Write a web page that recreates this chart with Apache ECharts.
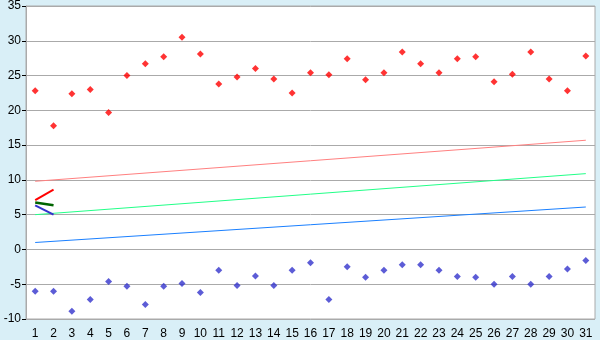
<!DOCTYPE html>
<html><head><meta charset="utf-8">
<script src="https://cdn.jsdelivr.net/npm/echarts@6/dist/echarts.min.js"></script>
<style>html,body{margin:0;padding:0;background:#d9eff7;}#c{width:600px;height:340px;}</style>
</head><body><div id="c"></div>
<script>
var days = ['1','2','3','4','5','6','7','8','9','10','11','12','13','14','15','16','17','18','19','20','21','22','23','24','25','26','27','28','29','30','31'];
var highs = [22.8,17.8,22.4,23.0,19.7,25.0,26.7,27.7,30.5,28.1,23.8,24.8,26.0,24.5,22.5,25.4,25.1,27.4,24.4,25.4,28.4,26.7,25.4,27.4,27.7,24.1,25.2,28.4,24.5,22.8,27.8];
var lows = [-6.0,-6.0,-8.9,-7.2,-4.6,-5.3,-7.9,-5.3,-4.9,-6.2,-3.0,-5.2,-3.8,-5.2,-3.0,-1.9,-7.2,-2.5,-4.0,-3.0,-2.2,-2.2,-3.0,-3.9,-4.0,-5.0,-3.9,-5.0,-3.9,-2.8,-1.6];
// trend lines: [first day value, last day value]
var normalHigh = [[0, 9.8], [30, 15.7]];
var normalMean = [[0, 5.0], [30, 10.9]];
var normalLow = [[0, 1.0], [30, 6.1]];
// short lines between day 1 and day 2
var shortRed = [7.1, 8.6];
var shortGreen = [6.75, 6.35];
var shortBlue = [6.35, 5.0];
var yTicks = {min: -10, max: 35, interval: 5};

var chart = echarts.init(document.getElementById('c'), null, {renderer: 'canvas'});
var font = {fontFamily: 'Liberation Sans', fontSize: 12, color: '#000'};
function lineS(data, color, width, z) {
  return {type: 'line', data: data, symbol: 'none', silent: true, z: z,
    lineStyle: {color: color, width: width}};
}
function ptS(data, color) {
  return {type: 'scatter', data: data, symbol: 'diamond', symbolSize: 7, silent: true, z: 5,
    itemStyle: {color: color}};
}
chart.setOption({
  animation: false,
  backgroundColor: '#d9eff7',
  grid: {left: 26, right: 5, top: 5, bottom: 20, show: true, backgroundColor: '#ffffff', borderColor: '#aaaaaa', borderWidth: 1},
  xAxis: {type: 'category', data: days, boundaryGap: true,
    axisLine: {lineStyle: {color: '#aaaaaa'}},
    axisTick: {alignWithLabel: true, length: 5, lineStyle: {color: '#000'}},
    axisLabel: Object.assign({margin: 9, interval: 0}, font),
    splitLine: {show: false}},
  yAxis: {type: 'value', min: yTicks.min, max: yTicks.max, interval: yTicks.interval,
    axisLine: {show: true, lineStyle: {color: '#aaaaaa'}},
    axisTick: {show: true, length: 4, lineStyle: {color: '#000'}},
    axisLabel: Object.assign({margin: 5}, font),
    splitLine: {lineStyle: {color: '#aaaaaa', width: 1}}},
  series: [
    lineS(normalHigh, '#ff8080', 1, 2),
    lineS(normalMean, '#22ff88', 1, 2),
    lineS(normalLow, '#1a80ff', 1, 2),
    lineS(shortRed, '#ff0000', 2, 3),
    lineS(shortGreen, '#006400', 2.5, 3),
    lineS(shortBlue, '#3333cc', 2, 3),
    ptS(highs, '#ff0000'),
    ptS(lows, '#3333cc')
  ]
});
</script></body></html>
